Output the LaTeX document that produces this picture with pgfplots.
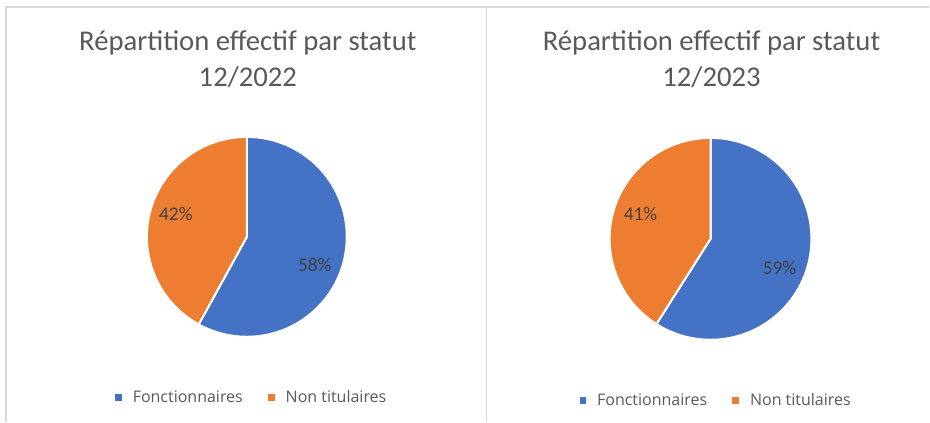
\documentclass[border=0pt]{standalone}
\usepackage{pgfplots}
\pgfplotsset{compat=1.18}
\usepackage{pgfplotstable}
\usepackage{fontspec}
\setmainfont{Carlito}
\newfontfamily\legfont{Open Sans}
\definecolor{cblue}{HTML}{4472C4}
\definecolor{corange}{HTML}{ED7D31}
\definecolor{ctitle}{HTML}{595959}
\definecolor{clabel}{HTML}{404040}
\definecolor{cborder}{HTML}{D9D9D9}

\pgfplotstableread{
statut a2022 a2023
Fonctionnaires 58 59
Nontitulaires 42 41
}\pietable
\pgfplotstablegetelem{0}{a2022}\of\pietable \edef\fa{\pgfplotsretval}
\pgfplotstablegetelem{1}{a2022}\of\pietable \edef\na{\pgfplotsretval}
\pgfplotstablegetelem{0}{a2023}\of\pietable \edef\fb{\pgfplotsretval}
\pgfplotstablegetelem{1}{a2023}\of\pietable \edef\nb{\pgfplotsretval}

\pgfplotsset{
  pxaxis/.style={
    x=0.75pt, y=0.75pt, ymin=0, ymax=422,
    hide axis, scale only axis, clip=false,
    anchor=south west,
    legend columns=2,
    legend style={draw=none, fill=none, font=\legfont\fontsize{12}{14}\selectfont, text=ctitle,
      /tikz/every even column/.append style={column sep=17pt},
      /tikz/every odd column/.append style={column sep=0pt},
      cells={anchor=west}, inner sep=0pt},
  },
  sqB/.style={legend image code/.code={\fill[cblue, draw=none] (0pt,-2.6pt) rectangle (5.2pt,2.6pt); \path[draw=none, fill=none] (0pt,0pt) -- (11.2pt,0pt);}},
  sqO/.style={legend image code/.code={\fill[corange, draw=none] (0pt,-2.6pt) rectangle (5.2pt,2.6pt); \path[draw=none, fill=none] (0pt,0pt) -- (11.2pt,0pt);}},
}
\tikzset{
  ttl/.style={font=\fontsize{21.5}{26}\selectfont, text=ctitle, anchor=center, inner sep=0pt},
  lbl/.style={font=\fontsize{14.5}{17}\selectfont, text=clabel, anchor=center, inner sep=0pt},
}

\begin{document}
\begin{tikzpicture}
\path (0,0) rectangle (697.5pt,316.5pt);
\begin{axis}[pxaxis, xmin=0, xmax=487, at={(0pt,0pt)},
  legend style={at={(0.518,0.057)}, anchor=center}]
  \addlegendimage{sqB}
  \addlegendentry{Fonctionnaires}
  \addlegendimage{sqO}
  \addlegendentry{Non titulaires}
  \draw[cborder, line width=1pt] (axis cs:6,0) -- (axis cs:6,415) -- (axis cs:487,415);
  \fill[cblue, draw=white, line width=1.5pt, line join=round]
    (axis cs:247,185) -- ++(90:75pt) arc[start angle=90, delta angle=-3.6*\fa, radius=75pt] -- cycle;
  \fill[corange, draw=white, line width=1.5pt, line join=round]
    (axis cs:247,185) -- ++(90-3.6*\fa:75pt) arc[start angle=90-3.6*\fa, delta angle=-3.6*\na, radius=75pt] -- cycle;
  \node[ttl] at (axis cs:248,379) {Répartition effectif par statut};
  \node[ttl] at (axis cs:248,345) {12/2022};
  \node[lbl] at (axis cs:315,157) {\fa\%};
  \node[lbl] at (axis cs:176,208) {\na\%};
\end{axis}
\begin{axis}[pxaxis, xmin=487, xmax=930, at={(365.25pt,0pt)},
  legend style={at={(0.519,0.050)}, anchor=center}]
  \addlegendimage{sqB}
  \addlegendentry{Fonctionnaires}
  \addlegendimage{sqO}
  \addlegendentry{Non titulaires}
  \draw[cborder, line width=1pt] (axis cs:487,0) -- (axis cs:487,415) -- (axis cs:930,415);
  \fill[cblue, draw=white, line width=1.5pt, line join=round]
    (axis cs:711,183) -- ++(90:75.75pt) arc[start angle=90, delta angle=-3.6*\fb, radius=75.75pt] -- cycle;
  \fill[corange, draw=white, line width=1.5pt, line join=round]
    (axis cs:711,183) -- ++(90-3.6*\fb:75.75pt) arc[start angle=90-3.6*\fb, delta angle=-3.6*\nb, radius=75.75pt] -- cycle;
  \node[ttl] at (axis cs:712,379) {Répartition effectif par statut};
  \node[ttl] at (axis cs:712,345) {12/2023};
  \node[lbl] at (axis cs:780,154) {\fb\%};
  \node[lbl] at (axis cs:641,208) {\nb\%};
\end{axis}
\end{tikzpicture}
\end{document}
